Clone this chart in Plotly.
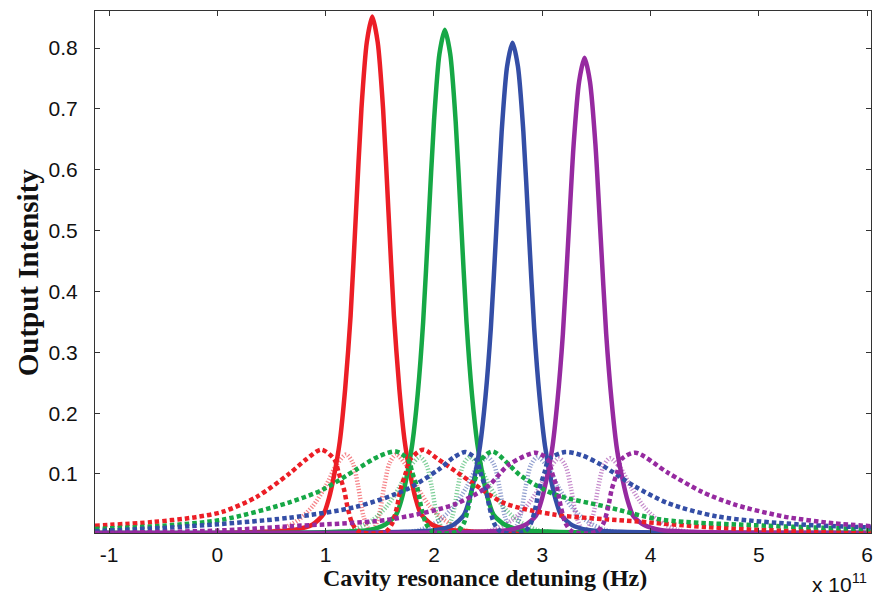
import plotly.graph_objects as go

# ---- transmitted (solid) peaks ----
red_solid_x = [-1.13, 0.0, 0.43, 0.73, 0.88, 0.98, 1.03, 1.08, 1.13, 1.18, 1.23, 1.28, 1.33, 1.38, 1.43,
               1.48, 1.53, 1.58, 1.63, 1.68, 1.73, 1.78, 1.83, 1.88, 1.98, 2.13, 2.43, 3.5, 6.05]
red_solid_y = [0.003, 0.003, 0.005, 0.009, 0.017, 0.034, 0.06, 0.10, 0.153, 0.24, 0.36, 0.53, 0.70, 0.81, 0.852,
               0.81, 0.70, 0.53, 0.36, 0.24, 0.153, 0.10, 0.06, 0.034, 0.017, 0.009, 0.005, 0.003, 0.003]

green_solid_x = [-1.13, 0.5, 1.10, 1.40, 1.55, 1.65, 1.70, 1.75, 1.80, 1.85, 1.90, 1.95, 2.00, 2.05, 2.10,
                 2.15, 2.20, 2.25, 2.30, 2.35, 2.40, 2.45, 2.50, 2.55, 2.65, 2.80, 3.10, 4.2, 6.05]
green_solid_y = [0.003, 0.003, 0.005, 0.008, 0.017, 0.033, 0.058, 0.097, 0.15, 0.232, 0.35, 0.515, 0.68, 0.79, 0.830,
                 0.79, 0.68, 0.515, 0.35, 0.232, 0.15, 0.097, 0.058, 0.033, 0.017, 0.008, 0.005, 0.003, 0.003]

blue_solid_x = [-1.13, 1.0, 1.725, 2.025, 2.175, 2.275, 2.325, 2.375, 2.425, 2.475, 2.525, 2.575, 2.625, 2.675, 2.725,
                2.775, 2.825, 2.875, 2.925, 2.975, 3.025, 3.075, 3.125, 3.175, 3.275, 3.425, 3.725, 4.8, 6.05]
blue_solid_y = [0.003, 0.003, 0.005, 0.008, 0.016, 0.032, 0.057, 0.095, 0.146, 0.226, 0.34, 0.50, 0.663, 0.77, 0.809,
                0.77, 0.663, 0.50, 0.34, 0.226, 0.146, 0.095, 0.057, 0.032, 0.016, 0.008, 0.005, 0.003, 0.003]

purple_solid_x = [-1.13, 1.5, 2.39, 2.69, 2.84, 2.94, 2.99, 3.04, 3.09, 3.14, 3.19, 3.24, 3.29, 3.34, 3.39,
                  3.44, 3.49, 3.54, 3.59, 3.64, 3.69, 3.74, 3.79, 3.84, 3.94, 4.09, 4.39, 5.3, 6.05]
purple_solid_y = [0.003, 0.003, 0.005, 0.008, 0.016, 0.031, 0.055, 0.092, 0.14, 0.22, 0.33, 0.486, 0.643, 0.745, 0.784,
                  0.745, 0.643, 0.486, 0.33, 0.22, 0.14, 0.092, 0.055, 0.031, 0.016, 0.008, 0.005, 0.003, 0.003]

# ---- reflected (dotted) spectra ----
red_dot_x = [-1.13, -0.6, -0.2, 0.05, 0.36, 0.66, 0.82, 0.96, 1.08, 1.12, 1.17, 1.20, 1.245, 1.30, 1.43,
             1.56, 1.615, 1.66, 1.69, 1.74, 1.78, 1.90, 2.04, 2.35, 2.65, 3.12, 3.88, 4.5, 5.2, 6.05]
red_dot_y = [0.015, 0.021, 0.029, 0.038, 0.062, 0.10, 0.124, 0.140, 0.124, 0.102, 0.074, 0.047, 0.019, 0.006, 0.002,
             0.006, 0.019, 0.047, 0.074, 0.102, 0.124, 0.140, 0.124, 0.086, 0.052, 0.033, 0.022, 0.013, 0.007, 0.004]

green_dot_x = [-1.13, -0.5, 0.05, 0.66, 0.97, 1.28, 1.49, 1.65, 1.76, 1.80, 1.85, 1.88, 1.925, 1.98, 2.10,
               2.22, 2.275, 2.32, 2.35, 2.40, 2.44, 2.54, 2.81, 3.12, 3.57, 4.10, 5.08, 6.05]
green_dot_y = [0.0097, 0.015, 0.025, 0.053, 0.074, 0.107, 0.129, 0.137, 0.124, 0.102, 0.074, 0.047, 0.019, 0.006, 0.002,
               0.006, 0.019, 0.047, 0.074, 0.102, 0.124, 0.137, 0.096, 0.066, 0.047, 0.025, 0.015, 0.009]

blue_dot_x = [-1.13, -0.26, 0.66, 1.28, 1.74, 2.04, 2.18, 2.29, 2.39, 2.43, 2.48, 2.51, 2.555, 2.61, 2.725,
              2.84, 2.895, 2.94, 2.97, 3.02, 3.06, 3.21, 3.36, 3.545, 3.85, 4.16, 4.62, 5.38, 6.05]
blue_dot_y = [0.006, 0.014, 0.028, 0.046, 0.074, 0.107, 0.127, 0.136, 0.124, 0.102, 0.074, 0.047, 0.019, 0.006, 0.002,
              0.006, 0.019, 0.047, 0.074, 0.102, 0.124, 0.136, 0.131, 0.115, 0.08, 0.052, 0.030, 0.017, 0.012]

purple_dot_x = [-1.13, 0.0, 0.66, 1.58, 2.19, 2.50, 2.69, 2.94, 3.05, 3.09, 3.14, 3.17, 3.215, 3.27, 3.39,
                3.51, 3.565, 3.61, 3.64, 3.69, 3.73, 3.86, 4.16, 4.47, 4.77, 5.23, 5.69, 6.05]
purple_dot_y = [0.003, 0.007, 0.014, 0.025, 0.05, 0.08, 0.115, 0.135, 0.124, 0.102, 0.074, 0.047, 0.019, 0.006, 0.002,
                0.006, 0.019, 0.047, 0.074, 0.102, 0.124, 0.135, 0.102, 0.071, 0.050, 0.030, 0.019, 0.014]

# ---- narrow-band (faint) spectra ----
red_faint_x = [0.30, 0.57, 0.75, 0.88, 1.00, 1.10, 1.19, 1.25, 1.30, 1.35, 1.42,
               1.49, 1.54, 1.59, 1.65, 1.74, 1.84, 1.96, 2.09, 2.27, 2.55]
red_faint_y = [0.003, 0.008, 0.025, 0.047, 0.080, 0.115, 0.132, 0.118, 0.08, 0.03, 0.003,
               0.03, 0.08, 0.118, 0.132, 0.115, 0.08, 0.047, 0.025, 0.008, 0.003]

green_faint_x = [1.0, 1.25, 1.43, 1.56, 1.68, 1.78, 1.87, 1.93, 1.98, 2.03, 2.10,
                 2.17, 2.22, 2.27, 2.33, 2.42, 2.52, 2.64, 2.77, 2.95, 3.2]
green_faint_y = [0.003, 0.008, 0.024, 0.046, 0.078, 0.112, 0.128, 0.115, 0.078, 0.03, 0.003,
                 0.03, 0.078, 0.115, 0.128, 0.112, 0.078, 0.046, 0.024, 0.008, 0.003]

blue_faint_x = [1.6, 1.87, 2.05, 2.18, 2.30, 2.40, 2.495, 2.555, 2.605, 2.655, 2.725,
                2.795, 2.845, 2.895, 2.955, 3.05, 3.15, 3.27, 3.40, 3.58, 3.85]
blue_faint_y = [0.003, 0.008, 0.024, 0.046, 0.078, 0.112, 0.128, 0.115, 0.078, 0.03, 0.003,
                0.03, 0.078, 0.115, 0.128, 0.112, 0.078, 0.046, 0.024, 0.008, 0.003]

purple_faint_x = [2.3, 2.54, 2.72, 2.85, 2.97, 3.07, 3.155, 3.215, 3.265, 3.315, 3.39,
                  3.465, 3.515, 3.565, 3.625, 3.72, 3.82, 3.94, 4.07, 4.25, 4.5]
purple_faint_y = [0.003, 0.008, 0.024, 0.046, 0.077, 0.11, 0.126, 0.113, 0.077, 0.03, 0.003,
                  0.03, 0.077, 0.113, 0.126, 0.11, 0.078, 0.046, 0.024, 0.008, 0.003]

x_ticks = [-1, 0, 1, 2, 3, 4, 5, 6]
x_tick_text = ["-1", "0", "1", "2", "3", "4", "5", "6"]
y_ticks = [0.1, 0.2, 0.3, 0.4, 0.5, 0.6, 0.7, 0.8]
y_tick_text = ["0.1", "0.2", "0.3", "0.4", "0.5", "0.6", "0.7", "0.8"]

RED = "rgb(236,30,38)"
GREEN = "rgb(22,168,70)"
BLUE = "rgb(52,78,166)"
PURPLE = "rgb(150,42,160)"

RED_F = "rgba(236,30,38,0.55)"
GREEN_F = "rgba(22,168,70,0.55)"
BLUE_F = "rgba(52,78,166,0.55)"
PURPLE_F = "rgba(150,42,160,0.55)"

fig = go.Figure()


def add_curve(x, y, color, width, dash, smoothing=0.8):
    fig.add_trace(go.Scatter(
        x=x, y=y, mode="lines", showlegend=False, hoverinfo="skip",
        line=dict(color=color, width=width, dash=dash, shape="spline", smoothing=smoothing),
    ))


for xs, ys, c in [(red_faint_x, red_faint_y, RED_F), (green_faint_x, green_faint_y, GREEN_F),
                  (blue_faint_x, blue_faint_y, BLUE_F), (purple_faint_x, purple_faint_y, PURPLE_F)]:
    add_curve(xs, ys, c, 4.5, "1.2px,1.8px")

for xs, ys, c in [(red_solid_x, red_solid_y, RED), (green_solid_x, green_solid_y, GREEN),
                  (blue_solid_x, blue_solid_y, BLUE), (purple_solid_x, purple_solid_y, PURPLE)]:
    add_curve(xs, ys, c, 4.5, "solid", 0.7)

for xs, ys, c in [(red_dot_x, red_dot_y, RED), (green_dot_x, green_dot_y, GREEN),
                  (blue_dot_x, blue_dot_y, BLUE), (purple_dot_x, purple_dot_y, PURPLE)]:
    add_curve(xs, ys, c, 4.5, "4.5px,3px")

axis_common = dict(
    showline=True, linecolor="#333", linewidth=1, mirror="ticks",
    ticks="inside", ticklen=5, tickcolor="#333", tickwidth=1,
    showgrid=False, zeroline=False,
    tickfont=dict(family="Liberation Sans, Arial, sans-serif", size=21, color="#111"),
)

fig.update_layout(
    width=876, height=596,
    margin=dict(l=95, r=3, t=11, b=63),
    paper_bgcolor="white", plot_bgcolor="white",
    xaxis=dict(range=[-1.13, 6.035], tickvals=x_ticks, ticktext=x_tick_text, ticklabelstandoff=3, **axis_common),
    yaxis=dict(range=[0.003, 0.861], tickvals=y_ticks, ticktext=y_tick_text, ticklabelstandoff=12, **axis_common),
    annotations=[
        dict(text="<b>Output Intensity</b>", xref="paper", yref="paper", x=-0.086, y=0.5,
             xanchor="center", yanchor="middle", textangle=-90, showarrow=False,
             font=dict(family="Liberation Serif, Times New Roman, serif", size=29, color="#111")),
        dict(text="<b>Cavity resonance detuning (Hz)</b>", xref="paper", yref="paper", x=0.5026, y=-0.086,
             xanchor="center", yanchor="middle", showarrow=False,
             font=dict(family="Liberation Serif, Times New Roman, serif", size=24, color="#111")),
        dict(text="x 10<sup>11</sup>", xref="paper", yref="paper", x=0.997, y=-0.095,
             xanchor="right", yanchor="middle", showarrow=False,
             font=dict(family="Liberation Sans, Arial, sans-serif", size=21, color="#111")),
    ],
)

fig.write_html("out.html")
